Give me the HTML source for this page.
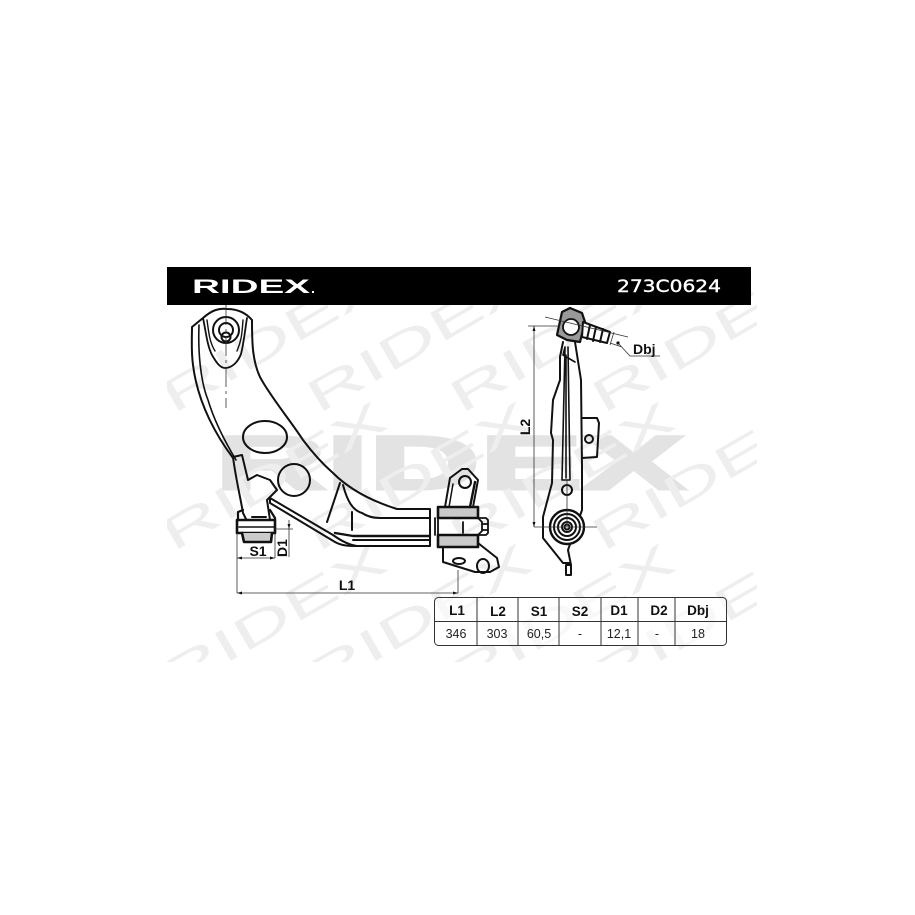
<!DOCTYPE html>
<html><head><meta charset="utf-8"><style>
html,body{margin:0;padding:0;background:#fff}
svg{display:block}
.wm{font:400 46px "Liberation Sans",sans-serif;fill:#eeeeee}
.d{font:700 14px "Liberation Sans",sans-serif;fill:#111}
.v{font:400 12.500px "Liberation Sans",sans-serif;fill:#222;text-anchor:middle}
.h{font:700 13.500px "Liberation Sans",sans-serif;fill:#111;text-anchor:middle}
</style></head><body>
<svg xmlns="http://www.w3.org/2000/svg" width="915" height="915" viewBox="0 0 915 915">
<defs><clipPath id="c"><rect x="167" y="267" width="590" height="395"/></clipPath></defs>
<rect width="915" height="915" fill="#fff"/>
<g clip-path="url(#c)">
<text x="215" y="489" textLength="470" lengthAdjust="spacingAndGlyphs" style="font:700 76px 'Liberation Sans',sans-serif;fill:#e3e3e3;stroke:#e3e3e3;stroke-width:3px">RIDEX</text>
<text class="wm" transform="translate(273,337) rotate(-30)" text-anchor="middle" y="17" textLength="250" lengthAdjust="spacingAndGlyphs">RIDEX</text>
<text class="wm" transform="translate(418,337) rotate(-30)" text-anchor="middle" y="17" textLength="250" lengthAdjust="spacingAndGlyphs">RIDEX</text>
<text class="wm" transform="translate(561,337) rotate(-30)" text-anchor="middle" y="17" textLength="250" lengthAdjust="spacingAndGlyphs">RIDEX</text>
<text class="wm" transform="translate(703,337) rotate(-30)" text-anchor="middle" y="17" textLength="250" lengthAdjust="spacingAndGlyphs">RIDEX</text>
<text class="wm" transform="translate(273,475) rotate(-30)" text-anchor="middle" y="17" textLength="250" lengthAdjust="spacingAndGlyphs">RIDEX</text>
<text class="wm" transform="translate(418,475) rotate(-30)" text-anchor="middle" y="17" textLength="250" lengthAdjust="spacingAndGlyphs">RIDEX</text>
<text class="wm" transform="translate(561,475) rotate(-30)" text-anchor="middle" y="17" textLength="250" lengthAdjust="spacingAndGlyphs">RIDEX</text>
<text class="wm" transform="translate(703,475) rotate(-30)" text-anchor="middle" y="17" textLength="250" lengthAdjust="spacingAndGlyphs">RIDEX</text>
<text class="wm" transform="translate(273,617) rotate(-30)" text-anchor="middle" y="17" textLength="250" lengthAdjust="spacingAndGlyphs">RIDEX</text>
<text class="wm" transform="translate(418,617) rotate(-30)" text-anchor="middle" y="17" textLength="250" lengthAdjust="spacingAndGlyphs">RIDEX</text>
<text class="wm" transform="translate(561,617) rotate(-30)" text-anchor="middle" y="17" textLength="250" lengthAdjust="spacingAndGlyphs">RIDEX</text>
<text class="wm" transform="translate(703,617) rotate(-30)" text-anchor="middle" y="17" textLength="250" lengthAdjust="spacingAndGlyphs">RIDEX</text>
</g>
<rect x="167" y="267" width="584" height="38" fill="#000"/>
<text x="192" y="293" textLength="118" lengthAdjust="spacingAndGlyphs" style="font:700 19px 'Liberation Sans',sans-serif;fill:#fff">RIDEX</text>
<rect x="312" y="291" width="2" height="2" fill="#fff"/>
<text x="617" y="292" textLength="104" lengthAdjust="spacingAndGlyphs" style="font:400 17px 'DejaVu Sans',sans-serif;fill:#fff;stroke:#fff;stroke-width:.4px">273C0624</text>

<g fill="none" stroke="#111" stroke-width="2" stroke-linejoin="round" stroke-linecap="round">
<!-- arm outline -->
<path d="M233 458C218 438 198 405 193 365C191 350 192 338 192 327L203 318C212 310 219 308 227 309C238 309 246 313 252 320C252 340 252 360 260 377C270 396 290 420 303 440C315 456 325 466 333 473C345 485 365 499 397 509L430 509V546H357C348 545 340 540 333 535L270 498"/>
<path d="M199 325C198 350 200 380 208 400C214 420 224 440 236 460" stroke-width="1.600"/>
<path d="M203 318C206 332 207 345 212 355C216 362 220 368 225 368C232 368 238 362 241 354C244 342 245 330 247 318" stroke-width="1.800"/>
<path d="M207 320C209 335 210 343 215 351" stroke-width="1.400"/>
<path d="M243 320C242 335 241 342 237 351" stroke-width="1.400"/>
<circle cx="226" cy="330" r="13"/><circle cx="226" cy="330" r="7"/><circle cx="226" cy="337" r="4.500"/>
<ellipse cx="265" cy="437" rx="22" ry="16"/>
<circle cx="294" cy="480" r="16"/>
<path d="M233 457L242 455L248 480L257 475L270 480L277 490L267 500L270 520M233 457C236 480 240 495 243 513L248 523H270"/>
<path d="M270 498L270 503L335 542C342 546 350 546 357 546" stroke-width="2"/>
<path d="M340 483L327 522M343 485C347 500 352 510 362 513C368 517 374 518 380 518H430M352 512V530M353 540H430" stroke-width="2"/>
<path d="M335 533L353 536H430" stroke-width="2.400"/>
<!-- left bush -->
<path d="M238 520V512L243 510M270 510L275 518V520" stroke-width="2.200"/>
<rect x="237" y="520" width="38" height="13" fill="#fff" stroke-width="2.600"/>
<path d="M239 527H274" stroke-width="1.500"/>
<path d="M242 533L244 542H271L272 533" fill="#ccc" stroke-width="2.600"/>
<path d="M248 520H270M252 517H266"/>
<!-- right bushing -->
<rect x="438" y="507" width="40" height="11" fill="#c9c9c9" stroke-width="2.600"/>
<rect x="438" y="535" width="40" height="12" fill="#c9c9c9" stroke-width="2.600"/>
<path d="M438 518H486L488 520V533L486 535H438V518ZM435 518V535M478 518L482 522V531L478 535M463 522V533M482 524H488M482 530H488" stroke-width="1.800"/>
<path d="M445 507L450 478L462 469H468L478 480L473 507" stroke-width="2"/>
<path d="M449 507L453 484" stroke-width="1.500"/><path d="M470 507L475 482" stroke-width="2.400"/>
<circle cx="465" cy="482" r="6"/>
<path d="M443 547V562L475 572H490L499 567L497 558L478 543" stroke-width="2"/>
<ellipse cx="459" cy="561" rx="6" ry="3"/><ellipse cx="483" cy="566" rx="6" ry="7"/>
<!-- side view -->
<path d="M563 342L560 357V380L553 400L551 433L553 440L552 483L543 517V538L563 563H570L571 565L568 550L582 510V467L581 380L575 342"/>
<path d="M566 565H571V575H566Z"/>
<path d="M582 418H597L599 423L597 457L582 458"/>
<circle cx="589" cy="439" r="4"/>
<path d="M565 347L563 355L575 362M565 347L562 480H570L568 347M566 355V478" stroke-width="1.600"/>
<circle cx="567" cy="490" r="5"/>
<circle cx="567" cy="527" r="17" fill="#fff" stroke-width="2.400"/><circle cx="567" cy="527" r="13"/><circle cx="567" cy="527" r="9"/><circle cx="567" cy="527" r="5"/><circle cx="567" cy="527" r="2.500"/>
<path d="M562 312L570 308L582 313L585 322L580 342L567 340L557 335Z" fill="#999" stroke-width="2.200"/>
<circle cx="571" cy="327" r="8" fill="#fff" stroke-width="1.800"/>
<path d="M583 322L610 332L607 343L582 337ZM590 325L587 339M596 327L593 341M603 329L600 342" fill="#fff" stroke-width="2"/>
</g>

<!-- dims -->
<g fill="none" stroke="#333" stroke-width=".8">
<path d="M226 305V408" stroke-dasharray="20 4 3 4"/>
<path d="M237 533V593M275 533V558M458 570V593M237 558H275M237 593H458M289 520V557M275 529H293"/>
<path d="M534 326V527M528 326H560M534 527H597M567 480V527"/>
<path d="M545 317L628 337M610 343L622 347M618 343L630 356H660M614 332L610 345"/>
</g>
<g fill="#111">
<path d="M237 558l5-1.500v3zM275 558l-5-1.500v3zM237 593l5-1.500v3zM458 593l-5-1.500v3zM289 529l-1.500-5h3zM534 326l-1.500 5h3zM534 527l-1.500-5h3z"/>
<circle cx="618" cy="343" r="1.600"/>
</g>
<text class="d" text-anchor="middle" x="258" y="556">S1</text>
<text class="d" text-anchor="middle" x="347" y="590">L1</text>
<text class="d" text-anchor="middle" transform="translate(287,548) rotate(-90)">D1</text>
<text class="d" text-anchor="middle" transform="translate(530,427) rotate(-90)">L2</text>
<text class="d" x="633" y="354">Dbj</text>

<!-- table -->
<g fill="none" stroke="#333" stroke-width="1">
<rect x="434.500" y="597.500" width="292" height="48" rx="4" fill="#fff" fill-opacity=".6"/>
<path d="M434 621.500H726M477 597V645M518 597V645M559 597V645M601 597V645M638 597V645M675 597V645"/>
</g>
<text class="h" x="457" y="615">L1</text><text class="h" x="498" y="616">L2</text><text class="h" x="539" y="616">S1</text><text class="h" x="580" y="616">S2</text><text class="h" x="619" y="615">D1</text><text class="h" x="659" y="615">D2</text><text class="h" x="698" y="615">Dbj</text>
<text class="v" x="456" y="638">346</text><text class="v" x="497" y="638">303</text><text class="v" x="539" y="638">60,5</text><text class="v" x="580" y="638">-</text><text class="v" x="619" y="638">12,1</text><text class="v" x="657" y="638">-</text><text class="v" x="698" y="638">18</text>
</svg>
</body></html>
